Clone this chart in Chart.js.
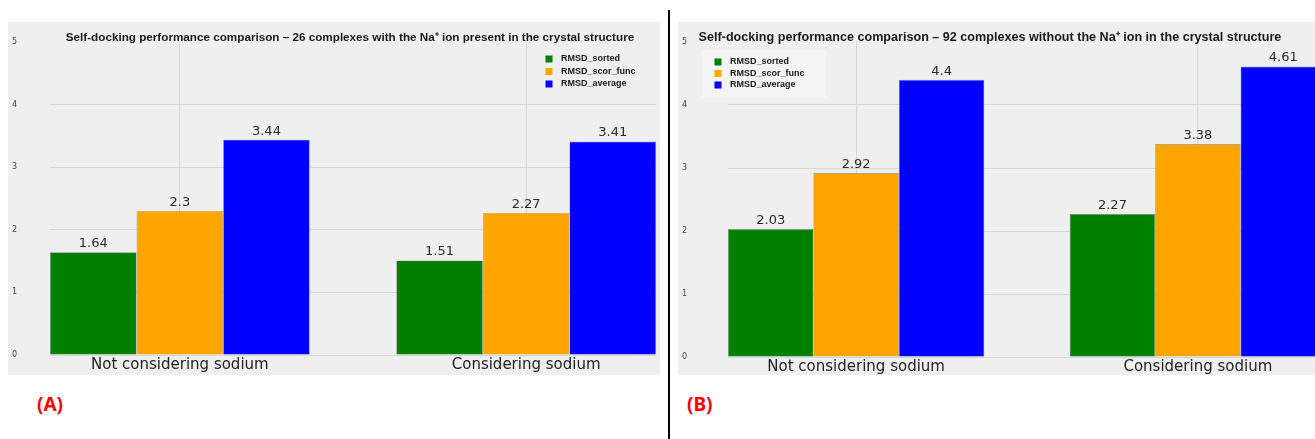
<!DOCTYPE html>
<html>
<head>
<meta charset="utf-8">
<script src="https://cdn.jsdelivr.net/npm/chart.js@4.4.1/dist/chart.umd.min.js"></script>
<style>
    body { margin: 0; background: #fff; overflow: hidden; width: 1315px; height: 439px; position: relative; }
    .panel { position: absolute; top: 22px; width: 652px; height: 353px; background: #efefef; }
    .panel canvas { position: absolute; left: 0; top: 0; }
    .title { position: absolute; font-family: "Liberation Sans", Arial, sans-serif; font-weight: bold; color: #1a1a1a; white-space: nowrap; transform: translateX(-50%); }
    .tag { position: absolute; top: 391px; font: bold 19px "Noto Sans", sans-serif; color: #ff0000; }
    #divider { position: absolute; left: 668px; top: 10px; width: 2px; height: 429px; background: #000; }
</style>
</head>
<body>
<div class="panel" id="panelA" style="left:8px"><canvas id="chartA" width="652" height="353"></canvas></div>
<div class="panel" id="panelB" style="left:678px"><canvas id="chartB" width="652" height="353"></canvas></div>
<div class="title" style="left:350px; top:28px; font-size:11.7px">Self-docking performance comparison – 26 complexes with the Na⁺ ion present in the crystal structure</div>
<div class="title" style="left:990px; top:28px; font-size:12.6px">Self-docking performance comparison – 92 complexes without the Na⁺ ion in the crystal structure</div>
<div class="tag" style="left:37px">(A)</div>
<div class="tag" style="left:687px">(B)</div>
<div id="divider"></div>
<script>
"use strict";

const categories = ["Not considering sodium", "Considering sodium"];
const seriesNames = ["RMSD_sorted", "RMSD_scor_func", "RMSD_average"];
const seriesColors = ["#008000", "#ffa500", "#0000ff"];

// panel A - 26 complexes with Na+
const sortedA = [1.64, 1.51];
const scorFuncA = [2.3, 2.27];
const averageA = [3.44, 3.41];

// panel B - 92 complexes without Na+
const sortedB = [2.03, 2.27];
const scorFuncB = [2.92, 3.38];
const averageB = [4.4, 4.61];

const yTicks = [0, 1, 2, 3, 4, 5];

const gridColor = "#d6d6d6";

// value text above each bar
const barValues = {
    id: 'barValues',
    afterDatasetsDraw(chart) {
        const ctx = chart.ctx;
        ctx.save();
        ctx.font = '13px "DejaVu Sans"';
        ctx.fillStyle = '#2a2a2a';
        ctx.textAlign = 'center';
        ctx.textBaseline = 'bottom';
        chart.data.datasets.forEach((ds, i) => {
            chart.getDatasetMeta(i).data.forEach((bar, j) => {
                ctx.fillText(String(ds.data[j].y), bar.x, bar.y - 2);
            });
        });
        ctx.restore();
    }
};

// small legend inside the plot
const innerLegend = {
    id: 'innerLegend',
    afterDraw(chart, args, opts) {
        const ctx = chart.ctx;
        ctx.save();
        if (opts.box) {
            ctx.fillStyle = '#f4f4f4';
            ctx.fillRect(opts.box[0], opts.box[1], opts.box[2], opts.box[3]);
        }
        ctx.font = 'bold 9px "Liberation Sans"';
        ctx.textBaseline = 'middle';
        chart.data.datasets.forEach((ds, i) => {
            const y = opts.y + i * opts.spacing;
            ctx.fillStyle = ds.backgroundColor;
            ctx.fillRect(opts.x - 3.5, y - 3.5, 7, 7);
            ctx.fillStyle = '#1a1a1a';
            ctx.fillText(ds.label, opts.x + 12, y);
        });
        ctx.restore();
    }
};

function makeChart(id, series, yAxisWidth, xAxisHeight, legendOpts) {
    const ctx = document.getElementById(id).getContext('2d');
    return new Chart(ctx, {
        type: 'bar',
        data: {
            datasets: series.map((vals, i) => ({
                label: seriesNames[i],
                data: vals.map((v, j) => ({ x: j, y: v })),
                backgroundColor: seriesColors[i],
                borderColor: 'rgba(40,40,40,0.5)',
                borderWidth: 0.6,
                barPercentage: 1.0,
                categoryPercentage: 0.75
            }))
        },
        options: {
            responsive: false,
            devicePixelRatio: 1,
            animation: false,
            layout: { padding: { top: 20, right: 4, left: 0, bottom: 0 } },
            plugins: {
                legend: { display: false },
                tooltip: { enabled: false },
                innerLegend: legendOpts
            },
            scales: {
                x: {
                    type: 'linear',
                    min: -0.375,
                    max: 1.375,
                    offset: false,
                    afterBuildTicks: s => { s.ticks = categories.map((c, i) => ({ value: i })); },
                    afterFit: s => { s.height = xAxisHeight; s.paddingLeft = 0; s.paddingRight = 0; },
                    grid: { color: gridColor, drawTicks: false, offset: false },
                    border: { display: false },
                    ticks: {
                        callback: v => categories[v],
                        maxRotation: 0,
                        autoSkip: false,
                        padding: 1,
                        font: { family: 'DejaVu Sans', size: 15 },
                        color: '#222'
                    }
                },
                y: {
                    min: 0,
                    max: 5,
                    afterBuildTicks: s => { s.ticks = yTicks.map(v => ({ value: v })); },
                    afterFit: s => { s.width = yAxisWidth; s.paddingTop = 0; s.paddingBottom = 0; },
                    grid: {
                        color: c => (c.tick && c.tick.value === 5) ? 'rgba(0,0,0,0)' : gridColor,
                        drawTicks: false
                    },
                    border: { display: false },
                    ticks: {
                        padding: yAxisWidth - 9,
                        font: { family: 'DejaVu Sans', size: 8 },
                        color: '#444'
                    }
                }
            }
        },
        plugins: [barValues, innerLegend]
    });
}

makeChart('chartA', [sortedA, scorFuncA, averageA], 42, 20,
    { x: 541, y: 37, spacing: 12.5 });
makeChart('chartB', [sortedB, scorFuncB, averageB], 50, 18,
    { x: 40, y: 40, spacing: 11.5, box: [24, 28, 124, 48] });
</script>
</body>
</html>
